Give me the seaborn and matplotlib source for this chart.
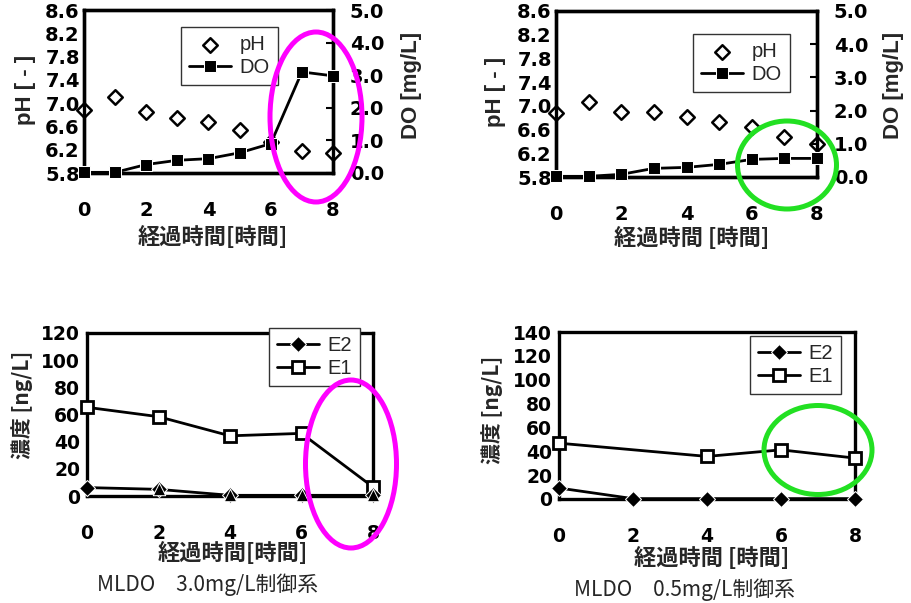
import numpy as np
import matplotlib
matplotlib.use('Agg')
import matplotlib.pyplot as plt
from matplotlib.patches import Ellipse
import seaborn as sns

sns.set_style('white')
plt.rcParams['font.family'] = ['Liberation Sans', 'Noto Sans CJK JP', 'DejaVu Sans']
plt.rcParams['font.weight'] = 'bold'
JP = ['Noto Sans CJK JP', 'DejaVu Sans']

# --- data ---
hours = [0, 1, 2, 3, 4, 5, 6, 7, 8]
ph_30 = [6.89, 7.10, 6.84, 6.74, 6.67, 6.54, 6.33, 6.17, 6.14]
do_30 = [0.02, 0.02, 0.26, 0.39, 0.44, 0.62, 0.90, 3.10, 2.98]
ph_05 = [6.88, 7.06, 6.90, 6.90, 6.81, 6.73, 6.65, 6.48, 6.35]
do_05 = [0.02, 0.02, 0.08, 0.26, 0.29, 0.38, 0.53, 0.56, 0.56]

conc_hours = [0, 2, 4, 6, 8]
e2_30 = [6.2, 4.9, 0.5, 0.5, 0.5]
e1_30 = [65.3, 58.4, 44.3, 46.1, 6.6]
e3_30 = [np.nan, 5.5, 1.0, 1.0, 1.0]   # unlabeled triangle series under E2
e2_05 = [9.2, 0.3, 0.3, 0.3, 0.3]
e1_05 = [46.8, np.nan, 35.7, 41.2, 34.3]

ph_ticks = [5.8, 6.2, 6.6, 7.0, 7.4, 7.8, 8.2, 8.6]
do_ticks = [0.0, 1.0, 2.0, 3.0, 4.0, 5.0]
time_ticks = [0, 2, 4, 6, 8]

W, H = 911, 603
fig = plt.figure(figsize=(W / 100, H / 100), dpi=100)


def px_axes(left, top, right, bottom):
    return fig.add_axes([left / W, 1 - bottom / H, (right - left) / W, (bottom - top) / H])


def frame(ax, size=14):
    for s in ax.spines.values():
        s.set_linewidth(2.4)
        s.set_color('black')
    ax.tick_params(direction='in', length=5, width=1.5, colors='black',
                   labelsize=size, labelfontfamily='DejaVu Sans')


def ftext(x, y, s, size=16, weight='bold', rot=0, family=None):
    fig.text(x / W, 1 - y / H, s, ha='center', va='center', rotation=rot,
             fontsize=size, fontweight=weight, family=family or JP)


def ring(cx, cy, w, h, color):
    fig.add_artist(Ellipse((cx / W, 1 - cy / H), w / W, h / H,
                           transform=fig.transFigure, fill=False,
                           edgecolor=color, linewidth=3.6, zorder=20))


def legend_at(ax, handles, labels, left, top):
    leg = ax.legend(handles, labels, loc='upper left',
                    bbox_to_anchor=(left / W, 1 - top / H),
                    bbox_transform=fig.transFigure, borderaxespad=0,
                    prop={'size': 14.5, 'weight': 'normal'},
                    frameon=True, fancybox=False, framealpha=1,
                    edgecolor='#333333', handlelength=2.1, labelspacing=0.2,
                    borderpad=0.4, handletextpad=0.4)
    leg.get_frame().set_linewidth(1.0)
    leg.set_zorder(15)


def ph_do_panel(box, ph, do, leg_pos):
    ax = px_axes(*box)
    ax2 = ax.twinx()
    sns.scatterplot(x=hours, y=ph, ax=ax, marker='D', s=55, color='white',
                    edgecolor='black', linewidth=1.8, label='pH', clip_on=False,
                    zorder=3)
    sns.lineplot(x=hours, y=do, ax=ax2, marker='s', markersize=9,
                 color='black', linewidth=2.0, label='DO', clip_on=False,
                 zorder=4)
    ax.set_xlim(0, 8)
    ax.set_ylim(5.8, 8.6)
    ax.set_yticks(ph_ticks)
    ax.set_yticklabels([f'{t:.1f}' for t in ph_ticks])
    ax.set_xticks(time_ticks)
    ax2.set_ylim(0, 5.0)
    ax2.set_yticks(do_ticks)
    ax2.set_yticklabels([f'{t:.1f}' for t in do_ticks])
    ax.set_xlabel('')
    ax.set_ylabel('')
    ax2.set_ylabel('')
    for a in (ax, ax2):
        if a.get_legend():
            a.get_legend().remove()
    frame(ax)
    frame(ax2)
    ax.tick_params(axis='x', pad=20)
    ax.tick_params(axis='y', pad=3, length=0)
    ax2.tick_params(axis='y', pad=12)
    h1, l1 = ax.get_legend_handles_labels()
    h2, l2 = ax2.get_legend_handles_labels()
    legend_at(ax2, h1 + h2, l1 + l2, *leg_pos)
    return ax, ax2


def conc_panel(box, e2, e1, ymax, leg_pos, e3=None):
    ax = px_axes(*box)
    sns.lineplot(x=conc_hours, y=e2, ax=ax, marker='D', markersize=8,
                 color='black', linewidth=2.0, label='E2', clip_on=False,
                 zorder=4)
    sns.lineplot(x=conc_hours, y=e1, ax=ax, marker='s', markersize=9,
                 color='black', markerfacecolor='white', markeredgecolor='black',
                 markeredgewidth=2.0, linewidth=2.0, label='E1', clip_on=False,
                 zorder=3)
    if e3 is not None:
        sns.scatterplot(x=conc_hours, y=e3, ax=ax, marker='^', s=80,
                        color='black', clip_on=False, zorder=5, legend=False)
    ax.set_xlim(0, 8)
    ax.set_ylim(0, ymax)
    ax.set_yticks(list(range(0, ymax + 1, 20)))
    ax.set_xticks(time_ticks)
    ax.set_xlabel('')
    ax.set_ylabel('')
    if ax.get_legend():
        ax.get_legend().remove()
    frame(ax, size=13.5)
    ax.tick_params(axis='x', pad=20)
    ax.tick_params(axis='y', pad=5)
    h, l = ax.get_legend_handles_labels()
    legend_at(ax, h, l, *leg_pos)
    return ax


# top row: pH / DO
ph_do_panel((84, 10, 333, 173), ph_30, do_30, (181, 27))
ph_do_panel((556, 11, 817, 177), ph_05, do_05, (693, 34))

# bottom row: E2 / E1 concentrations
conc_panel((87, 333, 373, 496), e2_30, e1_30, 120, (269, 328), e3=e3_30)
conc_panel((559, 332, 855, 499), e2_05, e1_05, 140, (750, 336))

# axis titles
ftext(25, 90, 'pH [ - ]', size=16, rot=90, family=['Liberation Sans'])
ftext(411, 85, 'DO [mg/L]', size=16, rot=90, family=['Liberation Sans'])
ftext(213, 237, '経過時間[時間]', size=16)

ftext(495, 92, 'pH [ - ]', size=16, rot=90, family=['Liberation Sans'])
ftext(894, 85, 'DO [mg/L]', size=16, rot=90, family=['Liberation Sans'])
ftext(692, 238, '経過時間 [時間]', size=16)

ftext(22, 405, '濃度 [ng/L]', size=15, rot=90)
ftext(233, 553, '経過時間[時間]', size=16)
ftext(208, 585, 'MLDO\u30003.0mg/L制御系', size=15, weight='normal')

ftext(492, 410, '濃度 [ng/L]', size=15, rot=90)
ftext(712, 558, '経過時間 [時間]', size=16)
ftext(685, 590, 'MLDO\u30000.5mg/L制御系', size=15, weight='normal')

# highlight rings
ring(316, 117, 92, 170, '#ff00ff')
ring(787, 165, 99, 88, '#22e022')
ring(351, 464, 91, 168, '#ff00ff')
ring(818, 450, 108, 89, '#22e022')

fig.savefig('out.png', dpi=100)
